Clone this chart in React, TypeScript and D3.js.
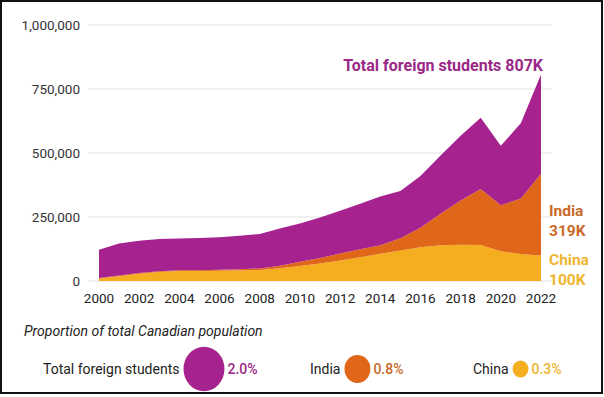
import React, { useEffect, useRef } from 'react';
import * as d3 from 'd3';

const years = [2000, 2001, 2002, 2003, 2004, 2005, 2006, 2007, 2008, 2009, 2010, 2011, 2012, 2013, 2014, 2015, 2016, 2017, 2018, 2019, 2020, 2021, 2022];
// study permit holders
const totalStudents = [122000, 146000, 157000, 164000, 166000, 168000, 171000, 177000, 184000, 205000, 225000, 248000, 274000, 302000, 330000, 352000, 410000, 490000, 567000, 638000, 528000, 617000, 807000];
const indiaStudents = [2000, 2000, 3000, 3000, 3000, 3000, 4000, 5000, 6000, 10000, 16000, 22000, 27000, 31000, 34000, 48000, 76000, 123000, 172000, 218000, 180000, 217000, 319000];
const chinaStudents = [10000, 19000, 28000, 35000, 39000, 39000, 40000, 41000, 43000, 50000, 59000, 68000, 80000, 93000, 106000, 119000, 132000, 140000, 142000, 141000, 116000, 105000, 100000];

const yTicks = [0, 250000, 500000, 750000, 1000000];
const xTicks = [2000, 2002, 2004, 2006, 2008, 2010, 2012, 2014, 2016, 2018, 2020, 2022];

const legendLabels = ["Total foreign students", "India", "China"];
const legendShares = [2.0, 0.8, 0.3];

const COLORS = {
    total: "#a5228f",
    india: "#e0661a",
    china: "#f5ae1f",
    totalText: "#9a2887",
    indiaText: "#c96a2b",
    chinaText: "#eeb630",
};

const FONT = "Roboto, 'Noto Sans', sans-serif";

const App = () => {
    const chartRef = useRef(null);

    useEffect(() => {
        const width = 604;
        const height = 397;

        const x = d3.scaleLinear().domain([2000, 2022]).range([99, 541]);
        const y = d3.scaleLinear().domain([0, 1000000]).range([281, 25]);

        const root = d3.select(chartRef.current);
        root.selectAll("*").remove();

        const svg = root.append("svg")
            .attr("width", width)
            .attr("height", height)
            .style("display", "block")
            .style("font-family", FONT);

        svg.append("rect")
            .attr("width", width)
            .attr("height", height)
            .attr("fill", "white");

        // gridlines
        svg.append("g")
            .selectAll("line")
            .data(yTicks)
            .enter()
            .append("line")
            .attr("x1", 88)
            .attr("x2", 552)
            .attr("y1", d => y(d))
            .attr("y2", d => y(d))
            .attr("stroke", "#e2e2e2")
            .attr("stroke-width", 1);

        svg.append("g")
            .selectAll("text")
            .data(yTicks)
            .enter()
            .append("text")
            .attr("x", 80)
            .attr("y", d => y(d))
            .attr("dy", "0.36em")
            .attr("text-anchor", "end")
            .attr("font-size", 13.5)
            .attr("fill", "#333")
            .text(d => d3.format(",")(d));

        // stacked areas
        const rows = years.map((yr, i) => ({
            year: yr,
            china: chinaStudents[i],
            india: indiaStudents[i],
            other: totalStudents[i] - indiaStudents[i] - chinaStudents[i],
        }));

        const stack = d3.stack().keys(["china", "india", "other"]);
        const series = stack(rows);
        const fills = { china: COLORS.china, india: COLORS.india, other: COLORS.total };

        const area = d3.area()
            .x((d: any) => x(d.data.year))
            .y0((d: any) => y(d[0]))
            .y1((d: any) => y(d[1]));

        svg.append("g")
            .selectAll("path")
            .data(series)
            .enter()
            .append("path")
            .attr("d", (d: any) => area(d))
            .attr("fill", (d: any) => fills[d.key]);

        svg.append("g")
            .selectAll("text")
            .data(xTicks)
            .enter()
            .append("text")
            .attr("x", d => x(d))
            .attr("y", 298)
            .attr("dy", "0.36em")
            .attr("text-anchor", "middle")
            .attr("font-size", 13.5)
            .attr("fill", "#222")
            .text(d => d);

        // end labels
        const last = years.length - 1;
        svg.append("text")
            .attr("x", 543)
            .attr("y", 65)
            .attr("dy", "0.36em")
            .attr("text-anchor", "end")
            .attr("font-size", 16)
            .attr("font-weight", "bold")
            .attr("fill", COLORS.totalText)
            .text("Total foreign students " + Math.round(totalStudents[last] / 1000) + "K");

        const sideLabels = [
            { name: "India", value: indiaStudents[last], color: COLORS.indiaText, top: 210 },
            { name: "China", value: chinaStudents[last], color: COLORS.chinaText, top: 259 },
        ];
        sideLabels.forEach(l => {
            const t = svg.append("text")
                .attr("x", 549)
                .attr("y", l.top)
                .attr("dy", "0.36em")
                .attr("font-size", 15.5)
                .attr("font-weight", "bold")
                .attr("fill", l.color);
            t.append("tspan").attr("x", 549).text(l.name);
            t.append("tspan").attr("x", 549).attr("dy", 20).text(Math.round(l.value / 1000) + "K");
        });

        // legend
        svg.append("text")
            .attr("x", 24)
            .attr("y", 331)
            .attr("dy", "0.36em")
            .attr("font-size", 14)
            .attr("font-style", "italic")
            .attr("fill", "#222")
            .text("Proportion of total Canadian population");

        const r = d3.scaleSqrt().domain([0, 2.0]).range([0, 20.5]);
        const legendColors = [COLORS.total, COLORS.india, COLORS.china];
        const legendTextColors = [COLORS.totalText, COLORS.indiaText, COLORS.chinaText];
        const labelX = [43, 310, 473];
        const legendY = 369;

        legendLabels.forEach((lab, i) => {
            const g = svg.append("g");
            const label = g.append("text")
                .attr("x", labelX[i])
                .attr("y", legendY)
                .attr("dy", "0.36em")
                .attr("font-size", 14)
                .attr("fill", "#222")
                .text(lab);
            const w = (label.node() as SVGTextElement).getComputedTextLength();
            const rad = r(legendShares[i]);
            const cx = labelX[i] + w + 4 + rad;
            g.append("ellipse")
                .attr("cx", cx)
                .attr("cy", legendY)
                .attr("rx", rad)
                .attr("ry", rad * 1.08)
                .attr("fill", legendColors[i]);
            g.append("text")
                .attr("x", cx + rad + 3)
                .attr("y", legendY)
                .attr("dy", "0.36em")
                .attr("font-size", 14)
                .attr("font-weight", 500)
                .attr("fill", legendTextColors[i])
                .text(legendShares[i].toFixed(1) + "%");
        });

        // frame
        svg.append("rect")
            .attr("x", 1)
            .attr("y", 1)
            .attr("width", width - 3)
            .attr("height", height - 5)
            .attr("fill", "none")
            .attr("stroke", "#111")
            .attr("stroke-width", 2);
    }, []);

    return (
        <div ref={chartRef} style={{ position: "absolute", left: 0, top: 0 }}></div>
    );
};

export default App;
